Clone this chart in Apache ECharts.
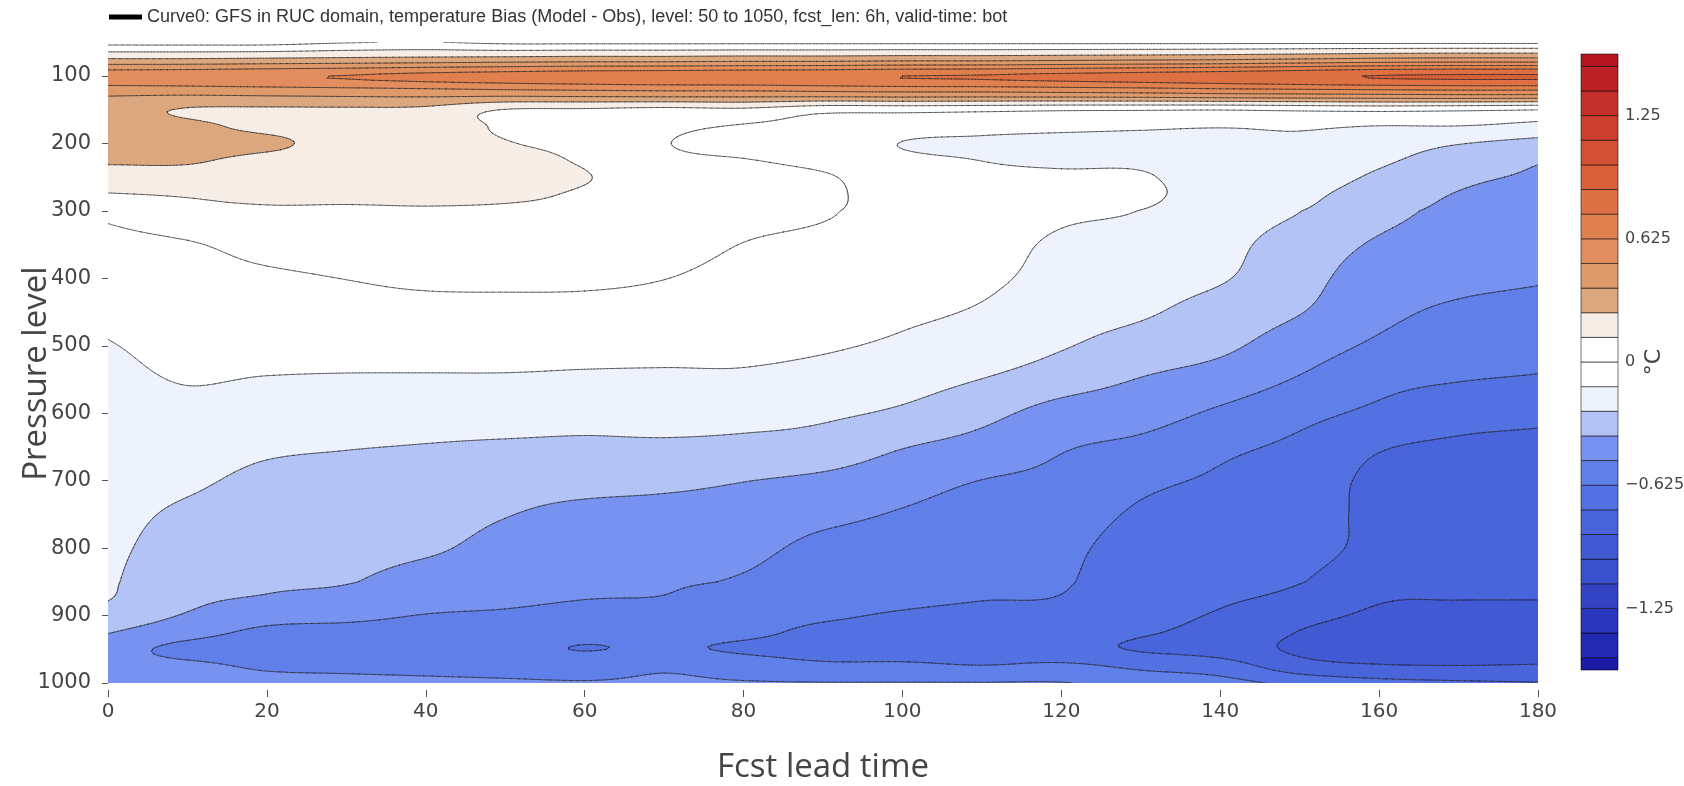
<!DOCTYPE html>
<html>
<head>
<meta charset="utf-8">
<title>GFS temperature bias by lead time and pressure level</title>
<script src="https://cdn.jsdelivr.net/npm/echarts@6.0.0/dist/echarts.min.js"></script>
<style>
  html, body { margin: 0; padding: 0; background: #ffffff; }
  #chart { width: 1684px; height: 786px; }
</style>
</head>
<body>
<div id="chart"></div>
<script>
// ---------------------------------------------------------------------------
// Data: temperature bias (Model - Obs, °C) on a lead-time x pressure-level grid
// ---------------------------------------------------------------------------
const leadTimes = [0, 10, 20, 30, 40, 50, 60, 70, 80, 90, 100, 110, 120, 130, 140, 150, 160, 170, 180];
const pressureLevels = [50, 75, 100, 125, 150, 175, 200, 225, 250, 275, 300, 350, 400, 450, 500,
                        550, 600, 650, 700, 750, 800, 850, 875, 900, 925, 950, 975, 1000];

// one array per lead time, values listed in the order of pressureLevels
const bias000 = [-0.05, 0.26, 0.58, 0.40, 0.31, 0.33, 0.33, 0.27, 0.19, 0.12, 0.03, -0.04, -0.06, -0.10, -0.13, -0.15, -0.17, -0.19, -0.205, -0.215, -0.225, -0.235, -0.245, -0.30, -0.37, -0.44, -0.46, -0.45];
const bias010 = [-0.05, 0.26, 0.59, 0.40, 0.24, 0.28, 0.31, 0.265, 0.20, 0.135, 0.09, -0.01, -0.04, -0.07, -0.095, -0.12, -0.15, -0.19, -0.23, -0.27, -0.30, -0.33, -0.35, -0.385, -0.45, -0.54, -0.47, -0.43];
const bias020 = [-0.05, 0.27, 0.61, 0.41, 0.23, 0.22, 0.28, 0.21, 0.18, 0.145, 0.11, 0.04, -0.02, -0.06, -0.09, -0.13, -0.18, -0.23, -0.28, -0.31, -0.335, -0.36, -0.385, -0.45, -0.53, -0.58, -0.52, -0.45];
const bias030 = [-0.01, 0.28, 0.63, 0.42, 0.23, 0.20, 0.19, 0.18, 0.165, 0.145, 0.11, 0.06, 0.002, -0.04, -0.085, -0.135, -0.19, -0.245, -0.29, -0.315, -0.34, -0.37, -0.405, -0.47, -0.54, -0.58, -0.53, -0.46];
const bias040 = [0.005, 0.29, 0.66, 0.43, 0.22, 0.19, 0.18, 0.17, 0.16, 0.145, 0.115, 0.07, 0.02, -0.035, -0.09, -0.135, -0.20, -0.255, -0.30, -0.33, -0.36, -0.415, -0.45, -0.505, -0.55, -0.59, -0.54, -0.47];
const bias050 = [-0.03, 0.30, 0.68, 0.44, 0.12, 0.11, 0.13, 0.145, 0.15, 0.14, 0.11, 0.07, 0.02, -0.03, -0.09, -0.135, -0.20, -0.265, -0.32, -0.37, -0.41, -0.44, -0.47, -0.52, -0.56, -0.60, -0.55, -0.48];
const bias060 = [-0.03, 0.31, 0.70, 0.45, 0.11, 0.09, 0.10, 0.115, 0.13, 0.115, 0.10, 0.07, 0.02, -0.035, -0.095, -0.14, -0.21, -0.27, -0.33, -0.41, -0.45, -0.48, -0.498, -0.55, -0.59, -0.628, -0.56, -0.49];
const bias070 = [-0.03, 0.31, 0.71, 0.46, 0.09, 0.03, 0.006, 0.03, 0.06, 0.07, 0.07, 0.05, 0.002, -0.045, -0.10, -0.14, -0.20, -0.27, -0.345, -0.42, -0.46, -0.49, -0.505, -0.55, -0.58, -0.61, -0.52, -0.48];
const bias080 = [-0.03, 0.32, 0.72, 0.46, 0.10, -0.01, -0.04, 0.005, 0.035, 0.045, 0.04, -0.003, -0.04, -0.07, -0.105, -0.14, -0.21, -0.28, -0.372, -0.43, -0.47, -0.51, -0.54, -0.57, -0.60, -0.64, -0.56, -0.49];
const bias090 = [-0.03, 0.32, 0.73, 0.47, 0.04, -0.03, -0.05, -0.03, 0.012, 0.02, 0.012, -0.03, -0.06, -0.085, -0.115, -0.16, -0.23, -0.30, -0.40, -0.47, -0.53, -0.57, -0.59, -0.61, -0.65, -0.67, -0.60, -0.495];
const bias100 = [-0.03, 0.33, 0.75, 0.48, 0.04, -0.07, -0.128, -0.10, -0.07, -0.05, -0.05, -0.06, -0.08, -0.11, -0.14, -0.20, -0.27, -0.37, -0.45, -0.51, -0.55, -0.59, -0.605, -0.635, -0.66, -0.68, -0.60, -0.495];
const bias110 = [-0.03, 0.33, 0.76, 0.48, 0.03, -0.09, -0.14, -0.126, -0.10, -0.08, -0.08, -0.09, -0.105, -0.135, -0.17, -0.252, -0.34, -0.42, -0.502, -0.55, -0.58, -0.61, -0.622, -0.65, -0.67, -0.69, -0.62, -0.495];
const bias120 = [-0.03, 0.34, 0.78, 0.49, 0.015, -0.10, -0.15, -0.14, -0.11, -0.10, -0.11, -0.14, -0.16, -0.20, -0.24, -0.32, -0.42, -0.49, -0.53, -0.57, -0.60, -0.615, -0.63, -0.66, -0.69, -0.71, -0.60, -0.495];
const bias130 = [-0.03, 0.35, 0.80, 0.50, 0.01, -0.11, -0.15, -0.14, -0.115, -0.10, -0.127, -0.17, -0.20, -0.235, -0.30, -0.38, -0.45, -0.53, -0.60, -0.64, -0.67, -0.69, -0.70, -0.72, -0.74, -0.76, -0.65, -0.55];
const bias140 = [-0.03, 0.36, 0.82, 0.52, 0.005, -0.12, -0.15, -0.17, -0.18, -0.19, -0.20, -0.22, -0.24, -0.30, -0.35, -0.43, -0.52, -0.60, -0.64, -0.66, -0.68, -0.71, -0.735, -0.76, -0.78, -0.80, -0.69, -0.58];
const bias150 = [-0.03, 0.38, 0.85, 0.53, 0.02, -0.11, -0.14, -0.17, -0.19, -0.22, -0.248, -0.30, -0.33, -0.37, -0.44, -0.51, -0.59, -0.65, -0.68, -0.69, -0.70, -0.745, -0.78, -0.83, -0.88, -0.90, -0.82, -0.66];
const bias160 = [-0.03, 0.40, 0.88, 0.54, 0.03, -0.13, -0.19, -0.23, -0.27, -0.31, -0.34, -0.39, -0.44, -0.47, -0.52, -0.59, -0.65, -0.74, -0.78, -0.785, -0.79, -0.84, -0.865, -0.90, -0.95, -0.97, -0.86, -0.71];
const bias170 = [-0.03, 0.41, 0.89, 0.55, 0.02, -0.13, -0.245, -0.31, -0.35, -0.38, -0.40, -0.43, -0.47, -0.52, -0.57, -0.62, -0.70, -0.77, -0.80, -0.82, -0.84, -0.86, -0.872, -0.92, -0.96, -0.98, -0.87, -0.73];
const bias180 = [-0.03, 0.41, 0.89, 0.55, 0.003, -0.16, -0.29, -0.365, -0.39, -0.41, -0.42, -0.45, -0.49, -0.54, -0.59, -0.635, -0.72, -0.78, -0.80, -0.82, -0.84, -0.86, -0.872, -0.93, -0.97, -0.99, -0.86, -0.745];

const biasByLead = [bias000, bias010, bias020, bias030, bias040, bias050, bias060, bias070, bias080, bias090,
                    bias100, bias110, bias120, bias130, bias140, bias150, bias160, bias170, bias180];

const pressureTicks = [100, 200, 300, 400, 500, 600, 700, 800, 900, 1000];
const colorbarTicks = [-1.25, -0.625, 0, 0.625, 1.25];
const contourStep = 0.125;
const zRange = [-1.5625, 1.5625];
const curveName = 'Curve0: GFS in RUC domain, temperature Bias (Model - Obs), level: 50 to 1050, fcst_len: 6h, valid-time: bot';

// ---------------------------------------------------------------------------
// Palette: one fill per contour band, coldest first
// ---------------------------------------------------------------------------
const bandColors = [
  '#1a1aa6', '#2228b0', '#2a36bb', '#3244c4', '#3a50cd', '#4259d4', '#4a64dc', '#5471e2',
  '#607fe8', '#7893ef', '#b3c3f6', '#eef2fd', '#ffffff', '#ffffff', '#f6ede6', '#dba77f',
  '#df9a6c', '#e18d5d', '#e0804f', '#dd7144', '#d8613b', '#d25033', '#cb3f2e', '#c4302a',
  '#bc2126', '#b3141f'
];
const lineColor = 'rgba(0,0,0,0.55)';

// band edges: zRange ends plus every contour level in between
const bandEdges = [zRange[0]];
for (let k = -12; k <= 12; k++) bandEdges.push(k * contourStep);
bandEdges.push(zRange[1]);
const contourLevels = bandEdges.slice(1, -1);
const nBands = bandEdges.length - 1;

function bandOf(v) {
  const i = Math.floor((v - contourLevels[0]) / contourStep) + 1;
  return Math.max(0, Math.min(nBands - 1, i));
}

// ---------------------------------------------------------------------------
// Smooth surface through the grid (Catmull-Rom in both directions)
// ---------------------------------------------------------------------------
const nx = leadTimes.length, ny = pressureLevels.length;

function gridVal(i, j) {
  if (i < 0) return 2 * gridVal(0, j) - gridVal(1, j);
  if (i >= nx) return 2 * gridVal(nx - 1, j) - gridVal(nx - 2, j);
  if (j < 0) return 2 * gridVal(i, 0) - gridVal(i, 1);
  if (j >= ny) return 2 * gridVal(i, ny - 1) - gridVal(i, ny - 2);
  return biasByLead[i][j];
}
function cr(p0, p1, p2, p3, s) {
  return 0.5 * (2 * p1 + (p2 - p0) * s + (2 * p0 - 5 * p1 + 4 * p2 - p3) * s * s +
                (3 * p1 - p0 - 3 * p2 + p3) * s * s * s);
}
function surface(u, w) {
  const i = Math.min(Math.floor(u), nx - 2), s = u - i;
  const j = Math.min(Math.floor(w), ny - 2), r = w - j;
  const col = [];
  for (let dj = -1; dj <= 2; dj++) {
    col.push(cr(gridVal(i - 1, j + dj), gridVal(i, j + dj), gridVal(i + 1, j + dj), gridVal(i + 2, j + dj), s));
  }
  return cr(col[0], col[1], col[2], col[3], r);
}

// ---------------------------------------------------------------------------
// Filled contour bands and contour lines (marching triangles)
// ---------------------------------------------------------------------------
function clipPoly(poly, lev, keepAbove) {
  const out = [];
  for (let i = 0; i < poly.length; i++) {
    const a = poly[i], b = poly[(i + 1) % poly.length];
    const ina = keepAbove ? a[2] >= lev : a[2] <= lev;
    const inb = keepAbove ? b[2] >= lev : b[2] <= lev;
    if (ina) out.push(a);
    if (ina !== inb) {
      const s = (lev - a[2]) / (b[2] - a[2]);
      out.push([a[0] + s * (b[0] - a[0]), a[1] + s * (b[1] - a[1]), lev]);
    }
  }
  return out;
}

let contourCache = null;
function buildContours(api) {
  const c0 = api.coord([leadTimes[0], pressureLevels[0]]);
  const c1 = api.coord([leadTimes[nx - 1], pressureLevels[ny - 1]]);
  const key = c0.join(',') + '|' + c1.join(',');
  if (contourCache && contourCache.key === key) return contourCache;

  const SX = 12, SY = 8;
  const W = (nx - 1) * SX + 1, H = (ny - 1) * SY + 1;
  const P = new Array(W * H);
  for (let b = 0; b < H; b++) {
    const w = b / SY, j = Math.min(Math.floor(w), ny - 2), r = w - j;
    const p = pressureLevels[j] + r * (pressureLevels[j + 1] - pressureLevels[j]);
    for (let a = 0; a < W; a++) {
      const u = a / SX, i = Math.min(Math.floor(u), nx - 2), s = u - i;
      const t = leadTimes[i] + s * (leadTimes[i + 1] - leadTimes[i]);
      const xy = api.coord([t, p]);
      let v = surface(u, w);
      const q = v / contourStep;
      if (Math.abs(q - Math.round(q)) < 1e-7) v += 1e-6;
      P[b * W + a] = [xy[0], xy[1], v];
    }
  }

  const polys = bandColors.map(() => []);
  const segs = contourLevels.map(() => []);

  function tri(A, B, C) {
    const vmin = Math.min(A[2], B[2], C[2]), vmax = Math.max(A[2], B[2], C[2]);
    const b0 = bandOf(vmin), b1 = bandOf(vmax);
    if (b0 === b1) {
      polys[b0].push([A[0], A[1], B[0], B[1], C[0], C[1]]);
    } else {
      for (let k = b0; k <= b1; k++) {
        let poly = [A, B, C];
        if (k > 0) poly = clipPoly(poly, bandEdges[k], true);
        if (poly.length >= 3 && k < nBands - 1) poly = clipPoly(poly, bandEdges[k + 1], false);
        if (poly.length >= 3) {
          const flat = [];
          for (const pt of poly) flat.push(pt[0], pt[1]);
          polys[k].push(flat);
        }
      }
      const kLo = Math.max(-12, Math.floor(vmin / contourStep) + 1);
      const kHi = Math.min(12, Math.ceil(vmax / contourStep) - 1);
      for (let k = kLo; k <= kHi; k++) {
        const L = k * contourStep;
        if (L <= vmin || L >= vmax) continue;
        const pts = [];
        const edges = [[A, B], [B, C], [C, A]];
        for (const [a, b] of edges) {
          if ((a[2] - L) * (b[2] - L) < 0) {
            const s = (L - a[2]) / (b[2] - a[2]);
            pts.push(a[0] + s * (b[0] - a[0]), a[1] + s * (b[1] - a[1]));
          }
        }
        if (pts.length === 4) segs[k + 12].push(pts[0], pts[1], pts[2], pts[3]);
      }
    }
  }

  for (let b = 0; b < H - 1; b++) {
    for (let a = 0; a < W - 1; a++) {
      const A = P[b * W + a], B = P[b * W + a + 1];
      const C = P[(b + 1) * W + a + 1], D = P[(b + 1) * W + a];
      tri(A, B, C);
      tri(A, C, D);
    }
  }
  contourCache = { key, polys, segs };
  return contourCache;
}

// custom shapes: a set of polygons, and a set of line segments
echarts.graphic.registerShape('polySet', echarts.graphic.extendShape({
  shape: { polys: null },
  buildPath(ctx, shape) {
    const ps = shape.polys || [];
    for (const p of ps) {
      ctx.moveTo(p[0], p[1]);
      for (let i = 2; i < p.length; i += 2) ctx.lineTo(p[i], p[i + 1]);
      ctx.closePath();
    }
  }
}));
echarts.graphic.registerShape('segSet', echarts.graphic.extendShape({
  shape: { segs: null },
  buildPath(ctx, shape) {
    const s = shape.segs || [];
    for (let i = 0; i < s.length; i += 4) {
      ctx.moveTo(s[i], s[i + 1]);
      ctx.lineTo(s[i + 2], s[i + 3]);
    }
  }
}));

function renderBand(params, api) {
  const c = buildContours(api);
  return {
    type: 'polySet',
    shape: { polys: c.polys[params.dataIndex] },
    style: { fill: bandColors[params.dataIndex], stroke: null },
    silent: true
  };
}
function renderLevel(params, api) {
  const c = buildContours(api);
  return {
    type: 'segSet',
    shape: { segs: c.segs[params.dataIndex] },
    style: { fill: null, stroke: lineColor, lineWidth: 1, lineCap: 'round' },
    silent: true
  };
}
function renderColorbarBand(params, api) {
  const top = api.coord([0, api.value(2)]);
  const bot = api.coord([1, api.value(1)]);
  return {
    type: 'rect',
    shape: { x: top[0], y: top[1], width: bot[0] - top[0], height: bot[1] - top[1] },
    style: { fill: bandColors[params.dataIndex], stroke: lineColor, lineWidth: 1 },
    silent: true
  };
}

function minusLabel(v) {
  return v < 0 ? '\u2212' + Math.abs(v) : String(v);
}

const bandData = bandColors.map((c, k) => [leadTimes[0], pressureLevels[0], k]);
const levelData = contourLevels.map((L, k) => [leadTimes[0], pressureLevels[0], k]);
const colorbarData = bandColors.map((c, k) => [0, bandEdges[k], bandEdges[k + 1]]);

const tickFont = 'DejaVu Sans';
const titleFont = 'Open Sans';

const option = {
  animation: false,
  backgroundColor: '#ffffff',
  legend: {
    data: [curveName],
    left: 104,
    top: 3,
    icon: 'rect',
    itemWidth: 33,
    itemHeight: 5,
    itemGap: 6,
    textStyle: { fontFamily: 'Liberation Sans', fontSize: 18, color: '#333' }
  },
  grid: [
    { left: 108, top: 42.3, right: 146, bottom: 103, containLabel: false, outerBoundsMode: 'none' },
    { left: 1581, top: 54, width: 37, height: 616, containLabel: false, outerBoundsMode: 'none' }
  ],
  xAxis: [
    {
      gridIndex: 0, type: 'value', min: 0, max: 180, interval: 20, offset: 7,
      axisLine: { show: false },
      axisTick: { show: true, length: 7, lineStyle: { color: '#555' } },
      axisLabel: { fontFamily: tickFont, fontSize: 20, color: '#444', margin: 12 },
      splitLine: { show: false },
      name: 'Fcst lead time', nameLocation: 'middle', nameGap: 61, nameMoveOverlap: false,
      nameTextStyle: { fontFamily: titleFont, fontSize: 33, color: '#444' }
    },
    { gridIndex: 1, type: 'value', min: 0, max: 1, show: false }
  ],
  yAxis: [
    {
      gridIndex: 0, type: 'value', inverse: true, min: 50, max: 1000, position: 'left', offset: 7,
      axisLine: { show: false },
      axisTick: { show: true, customValues: pressureTicks, length: 6, lineStyle: { color: '#555' } },
      axisLabel: { customValues: pressureTicks, formatter: (v) => String(v), fontFamily: tickFont, fontSize: 21, color: '#444', margin: 10 },
      splitLine: { show: false },
      name: 'Pressure level', nameLocation: 'middle', nameGap: 48, nameMoveOverlap: false,
      nameTextStyle: { fontFamily: titleFont, fontSize: 33, color: '#444', padding: [0, 22, 0, 0] }
    },
    {
      gridIndex: 0, type: 'value', inverse: true, min: 50, max: 1000, position: 'left', offset: 0,
      axisLine: { show: true, lineStyle: { color: '#b0b0b0', width: 1 } },
      axisTick: { show: false }, axisLabel: { show: false }, splitLine: { show: false }
    },
    {
      gridIndex: 1, type: 'value', min: zRange[0], max: zRange[1], position: 'right',
      axisLine: { show: false }, axisTick: { show: false }, splitLine: { show: false },
      axisLabel: { customValues: colorbarTicks, formatter: minusLabel, fontFamily: tickFont, fontSize: 16, color: '#444', margin: 7 },
      name: '°C', nameLocation: 'middle', nameRotate: 90, nameGap: 25, nameMoveOverlap: false,
      nameTextStyle: { fontFamily: tickFont, fontSize: 22, color: '#444' }
    }
  ],
  series: [
    {
      name: curveName, type: 'line', xAxisIndex: 0, yAxisIndex: 0, data: [],
      color: '#000', lineStyle: { color: '#000' }, itemStyle: { color: '#000' }
    },
    {
      type: 'custom', name: 'bands', xAxisIndex: 0, yAxisIndex: 0,
      renderItem: renderBand, data: bandData, encode: { x: 0, y: 1 }, z: 1, clip: true
    },
    {
      type: 'custom', name: 'levels', xAxisIndex: 0, yAxisIndex: 0,
      renderItem: renderLevel, data: levelData, encode: { x: 0, y: 1 }, z: 2, clip: true
    },
    {
      type: 'custom', name: 'colorbar', xAxisIndex: 1, yAxisIndex: 2,
      renderItem: renderColorbarBand, data: colorbarData, encode: { x: 0, y: [1, 2] }, z: 2
    }
  ]
};

const chart = echarts.init(document.getElementById('chart'), null, { renderer: 'canvas' });
chart.setOption(option);
</script>
</body>
</html>
